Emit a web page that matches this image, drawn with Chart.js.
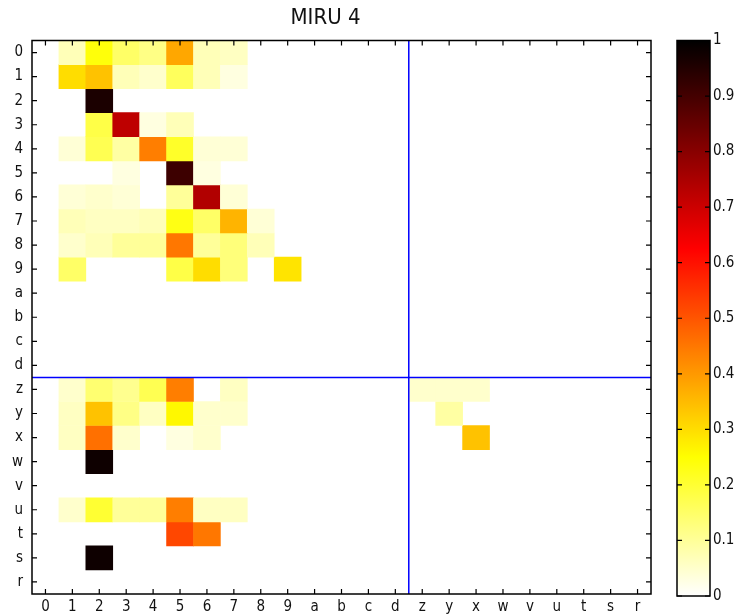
<!DOCTYPE html>
<html>
<head>
<meta charset="utf-8">
<script src="https://cdn.jsdelivr.net/npm/chart.js@4"></script>
<style>
  body { margin: 0; background: #fff; }
  #wrap { position: relative; width: 739px; height: 615px; }
  #main { position: absolute; left: 0; top: 0; }
  #bar { position: absolute; left: 660px; top: 0; }
</style>
</head>
<body>
<div id="wrap">
  <canvas id="main" width="683" height="615"></canvas>
  <canvas id="bar" width="79" height="615"></canvas>
</div>
<script>
// axis labels (same order on both axes)
var colLabels = ['0','1','2','3','4','5','6','7','8','9','a','b','c','d','z','y','x','w','v','u','t','s','r'];
var rowLabels = ['0','1','2','3','4','5','6','7','8','9','a','b','c','d','z','y','x','w','v','u','t','s','r'];

// heat values, one row per row label, columns in colLabels order
var heat = [
  [0, .07, .24, .15, .12, .38, .07, .06, 0, 0, 0, 0, 0, 0, 0, 0, 0, 0, 0, 0, 0, 0, 0], // 0
  [0, .30, .34, .07, .05, .16, .07, .03, 0, 0, 0, 0, 0, 0, 0, 0, 0, 0, 0, 0, 0, 0, 0], // 1
  [0, 0, .96, 0, 0, 0, 0, 0, 0, 0, 0, 0, 0, 0, 0, 0, 0, 0, 0, 0, 0, 0, 0],            // 2
  [0, 0, .18, .72, .03, .07, 0, 0, 0, 0, 0, 0, 0, 0, 0, 0, 0, 0, 0, 0, 0, 0, 0],      // 3
  [0, .04, .17, .09, .44, .21, .04, .04, 0, 0, 0, 0, 0, 0, 0, 0, 0, 0, 0, 0, 0, 0, 0], // 4
  [0, 0, 0, .03, 0, .91, .03, 0, 0, 0, 0, 0, 0, 0, 0, 0, 0, 0, 0, 0, 0, 0, 0],        // 5
  [0, .04, .05, .04, 0, .10, .74, .04, 0, 0, 0, 0, 0, 0, 0, 0, 0, 0, 0, 0, 0, 0, 0],  // 6
  [0, .07, .06, .06, .07, .23, .15, .36, .04, 0, 0, 0, 0, 0, 0, 0, 0, 0, 0, 0, 0, 0, 0], // 7
  [0, .05, .07, .10, .10, .45, .10, .13, .07, 0, 0, 0, 0, 0, 0, 0, 0, 0, 0, 0, 0, 0, 0], // 8
  [0, .15, 0, 0, 0, .18, .30, .13, 0, .29, 0, 0, 0, 0, 0, 0, 0, 0, 0, 0, 0, 0, 0],    // 9
  [0, 0, 0, 0, 0, 0, 0, 0, 0, 0, 0, 0, 0, 0, 0, 0, 0, 0, 0, 0, 0, 0, 0],              // a
  [0, 0, 0, 0, 0, 0, 0, 0, 0, 0, 0, 0, 0, 0, 0, 0, 0, 0, 0, 0, 0, 0, 0],              // b
  [0, 0, 0, 0, 0, 0, 0, 0, 0, 0, 0, 0, 0, 0, 0, 0, 0, 0, 0, 0, 0, 0, 0],              // c
  [0, 0, 0, 0, 0, 0, 0, 0, 0, 0, 0, 0, 0, 0, 0, 0, 0, 0, 0, 0, 0, 0, 0],              // d
  [0, .05, .14, .11, .17, .44, 0, .06, 0, 0, 0, 0, 0, 0, .05, .05, .05, 0, 0, 0, 0, 0, 0], // z
  [0, .06, .34, .12, .06, .26, .05, .05, 0, 0, 0, 0, 0, 0, 0, .09, 0, 0, 0, 0, 0, 0, 0],   // y
  [0, .06, .46, .05, 0, .03, .05, 0, 0, 0, 0, 0, 0, 0, 0, 0, .34, 0, 0, 0, 0, 0, 0],     // x
  [0, 0, .98, 0, 0, 0, 0, 0, 0, 0, 0, 0, 0, 0, 0, 0, 0, 0, 0, 0, 0, 0, 0],            // w
  [0, 0, 0, 0, 0, 0, 0, 0, 0, 0, 0, 0, 0, 0, 0, 0, 0, 0, 0, 0, 0, 0, 0],              // v
  [0, .05, .20, .10, .10, .44, .06, .06, 0, 0, 0, 0, 0, 0, 0, 0, 0, 0, 0, 0, 0, 0, 0], // u
  [0, 0, 0, 0, 0, .52, .45, 0, 0, 0, 0, 0, 0, 0, 0, 0, 0, 0, 0, 0, 0, 0, 0],          // t
  [0, 0, .98, 0, 0, 0, 0, 0, 0, 0, 0, 0, 0, 0, 0, 0, 0, 0, 0, 0, 0, 0, 0],            // s
  [0, 0, 0, 0, 0, 0, 0, 0, 0, 0, 0, 0, 0, 0, 0, 0, 0, 0, 0, 0, 0, 0, 0]               // r
];

// colour bar range
var scaleMin = 0;
var scaleMax = 1;

var fontFam = '"Liberation Sans Narrow", "DejaVu Sans Condensed", "Liberation Sans", sans-serif';

// reversed "hot" colormap: white -> yellow -> red -> black
function hotr(v) {
    var t = 1 - Math.max(0, Math.min(1, v));
    var c = function(x) { return Math.round(255 * Math.max(0, Math.min(1, x))); };
    return 'rgb(' + c(t / 0.375) + ',' + c((t - 0.375) / 0.375) + ',' + c((t - 0.75) / 0.25) + ')';
}

// one floating-bar dataset per row
var datasets = heat.map(function(row, r) {
    return {
        data: row.map(function(v) { return v > 0 ? [r, r + 1] : null; }),
        backgroundColor: row.map(function(v) { return hotr(v); }),
        borderWidth: 0,
        grouped: false,
        barPercentage: 1,
        categoryPercentage: 1
    };
});

// box, inward ticks and blue split lines
var framePlugin = {
    id: 'frame',
    afterDatasetsDraw: function(chart) {
        var ctx = chart.ctx, a = chart.chartArea, x = chart.scales.x, y = chart.scales.y;
        ctx.save();
        ctx.strokeStyle = '#0000ff';
        ctx.lineWidth = 1.5;
        var bx = (x.getPixelForTick(13) + x.getPixelForTick(14)) / 2;
        var by = y.getPixelForValue(14);
        ctx.beginPath();
        ctx.moveTo(bx, a.top); ctx.lineTo(bx, a.bottom);
        ctx.moveTo(a.left, by); ctx.lineTo(a.right, by);
        ctx.stroke();

        ctx.strokeStyle = '#000';
        ctx.lineWidth = 1.5;
        ctx.strokeRect(a.left, a.top, a.right - a.left, a.bottom - a.top);
        ctx.lineWidth = 1.2;
        ctx.beginPath();
        colLabels.forEach(function(_, i) {
            var px = x.getPixelForTick(i);
            ctx.moveTo(px, a.bottom); ctx.lineTo(px, a.bottom - 5);
            ctx.moveTo(px, a.top); ctx.lineTo(px, a.top + 5);
        });
        rowLabels.forEach(function(_, i) {
            var py = y.getPixelForValue(i + 0.5);
            ctx.moveTo(a.left, py); ctx.lineTo(a.left + 5, py);
            ctx.moveTo(a.right, py); ctx.lineTo(a.right - 5, py);
        });
        ctx.stroke();
        ctx.restore();
    }
};

new Chart(document.getElementById('main'), {
    type: 'bar',
    data: { labels: colLabels, datasets: datasets },
    options: {
        responsive: false,
        animation: false,
        layout: { padding: { left: 0, right: 32, top: 0, bottom: 0 } },
        plugins: {
            legend: { display: false },
            tooltip: { enabled: false },
            title: {
                display: true,
                text: 'MIRU 4',
                color: '#111',
                font: { family: fontFam, size: 22, weight: 'normal', lineHeight: 1.2 },
                padding: { top: 5, bottom: 9.1 }
            }
        },
        scales: {
            x: {
                type: 'category',
                offset: true,
                grid: { display: false, drawTicks: false },
                border: { display: false },
                ticks: { color: '#111', font: { family: fontFam, size: 15 }, padding: 4, maxRotation: 0, autoSkip: false },
                afterFit: function(s) { s.height = 21; }
            },
            y: {
                type: 'linear',
                min: 0,
                max: rowLabels.length,
                reverse: true,
                grid: { display: false, drawTicks: false },
                border: { display: false },
                afterBuildTicks: function(s) {
                    s.ticks = rowLabels.map(function(_, i) { return { value: i + 0.5 }; });
                },
                ticks: {
                    color: '#111',
                    font: { family: fontFam, size: 15 },
                    padding: 9,
                    autoSkip: false,
                    callback: function(v, i) { return rowLabels[i]; }
                },
                afterFit: function(s) { s.width = 32; }
            }
        }
    },
    plugins: [framePlugin]
});

// colour bar
var barFrame = {
    id: 'barFrame',
    afterDatasetsDraw: function(chart) {
        var ctx = chart.ctx, a = chart.chartArea, y = chart.scales.y;
        ctx.save();
        ctx.strokeStyle = '#000';
        ctx.lineWidth = 1.5;
        ctx.strokeRect(a.left, a.top, a.right - a.left, a.bottom - a.top);
        ctx.lineWidth = 1.2;
        ctx.beginPath();
        y.ticks.forEach(function(t) {
            var py = y.getPixelForValue(t.value);
            ctx.moveTo(a.left, py); ctx.lineTo(a.left + 5, py);
            ctx.moveTo(a.right, py); ctx.lineTo(a.right - 5, py);
        });
        ctx.stroke();
        ctx.restore();
    }
};

new Chart(document.getElementById('bar'), {
    type: 'bar',
    data: {
        labels: ['c'],
        datasets: [{
            data: [[scaleMin, scaleMax]],
            borderWidth: 0,
            barPercentage: 1,
            categoryPercentage: 1,
            backgroundColor: function(c) {
                var a = c.chart.chartArea;
                if (!a) return 'rgba(0,0,0,0)';
                var g = c.chart.ctx.createLinearGradient(0, a.bottom, 0, a.top);
                for (var i = 0; i <= 64; i++) g.addColorStop(i / 64, hotr(i / 64));
                return g;
            }
        }]
    },
    options: {
        responsive: false,
        animation: false,
        layout: { padding: { left: 17, right: 0, top: 40.5, bottom: 19 } },
        plugins: { legend: { display: false }, tooltip: { enabled: false } },
        scales: {
            x: { display: false, offset: true },
            y: {
                position: 'right',
                min: scaleMin,
                max: scaleMax,
                grid: { display: false, drawTicks: false },
                border: { display: false },
                ticks: {
                    stepSize: 0.1,
                    color: '#111',
                    font: { family: fontFam, size: 15 },
                    padding: 3,
                    callback: function(v) { return String(Math.round(v * 10) / 10); }
                },
                afterFit: function(s) { s.width = 29; }
            }
        }
    },
    plugins: [barFrame]
});
</script>
</body>
</html>
